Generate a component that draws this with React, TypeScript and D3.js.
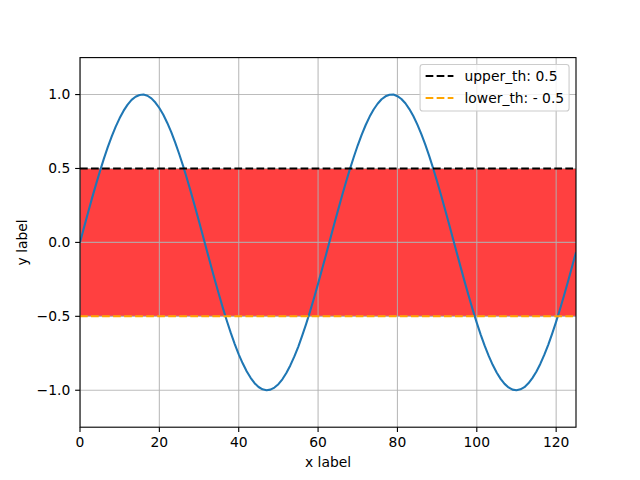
import React from "react";
import * as d3 from "d3";

const xs: number[] = Array.from({ length: 126 }, (_, i) => i);
const ys: number[] = [
  0.0, 0.1, 0.199, 0.296, 0.389, 0.479, 0.565, 0.644, 0.717, 0.783,
  0.841, 0.891, 0.932, 0.964, 0.985, 0.997, 1.0, 0.992, 0.974, 0.946,
  0.909, 0.863, 0.808, 0.746, 0.675, 0.598, 0.516, 0.427, 0.335, 0.239,
  0.141, 0.042, -0.058, -0.158, -0.256, -0.351, -0.443, -0.53, -0.612, -0.688,
  -0.757, -0.818, -0.872, -0.916, -0.952, -0.978, -0.994, -1.0, -0.996, -0.982,
  -0.959, -0.926, -0.883, -0.832, -0.773, -0.706, -0.631, -0.551, -0.465, -0.374,
  -0.279, -0.182, -0.083, 0.017, 0.117, 0.215, 0.312, 0.405, 0.494, 0.578,
  0.657, 0.729, 0.794, 0.851, 0.899, 0.938, 0.968, 0.988, 0.999, 1.0,
  0.989, 0.97, 0.941, 0.902, 0.855, 0.798, 0.734, 0.663, 0.585, 0.501,
  0.412, 0.319, 0.223, 0.124, 0.025, -0.075, -0.174, -0.272, -0.366, -0.458,
  -0.544, -0.625, -0.7, -0.768, -0.828, -0.88, -0.923, -0.957, -0.981, -0.996,
  -1.0, -0.994, -0.979, -0.953, -0.918, -0.875, -0.822, -0.761, -0.693, -0.617,
  -0.536, -0.449, -0.358, -0.263, -0.165, -0.066,
];
const upperTh = 0.5;
const lowerTh = -0.5;
const xTicks = [0, 20, 40, 60, 80, 100, 120];
const yTicks = [-1.0, -0.5, 0.0, 0.5, 1.0];
const legendLabels = ["upper_th: 0.5", "lower_th: - 0.5"];
const legendColors = ["#000000", "#ffa500"];

const W = 640, H = 480;
const L = 80, R = 576, T = 57.6, B = 427.2;
const FS = 13.89;
const FONT = "DejaVu Sans";
const LW = 2.08;

export default function App() {
  const x = d3.scaleLinear().domain([0, 125]).range([L, R]);
  const y = d3.scaleLinear().domain([-1.25, 1.25]).range([B, T]);
  const line = d3.line<number>().x((_, i) => x(xs[i])).y((d) => y(d));
  const fmt = (v: number) => v.toFixed(1).replace("-", "\u2212");
  const dash = "7.7 3.33";

  const legW = 149, legH = 46.5;
  const legX = R - 6.94 - legW, legY = T + 6.94;

  return (
    <svg width={W} height={H} style={{ position: "absolute", left: 0, top: 0 }} fontFamily={FONT}>
      <rect x={0} y={0} width={W} height={H} fill="#fff" />
      <defs>
        <clipPath id="ax">
          <rect x={L} y={T} width={R - L} height={B - T} />
        </clipPath>
      </defs>
      <g clipPath="url(#ax)">
        <rect x={x(0)} y={y(upperTh)} width={x(125) - x(0)} height={y(lowerTh) - y(upperTh)} fill="#ff4040" />
        {xTicks.map((t) => (
          <line key={"gx" + t} x1={x(t)} x2={x(t)} y1={T} y2={B} stroke="#b0b0b0" strokeOpacity={0.85} strokeWidth={1.11} />
        ))}
        {yTicks.map((t) => (
          <line key={"gy" + t} x1={L} x2={R} y1={y(t)} y2={y(t)} stroke="#b0b0b0" strokeOpacity={0.85} strokeWidth={1.11} />
        ))}
        <path d={line(ys) || ""} fill="none" stroke="#1f77b4" strokeWidth={LW} strokeLinejoin="round" strokeLinecap="butt" />
        <line x1={L} x2={R} y1={y(upperTh)} y2={y(upperTh)} stroke="#000" strokeWidth={LW} strokeDasharray={dash} />
        <line x1={L} x2={R} y1={y(lowerTh)} y2={y(lowerTh)} stroke="#ffa500" strokeWidth={LW} strokeDasharray={dash} />
      </g>
      <rect x={L} y={T} width={R - L} height={B - T} fill="none" stroke="#000" strokeWidth={1.11} />
      {xTicks.map((t) => (
        <g key={"xt" + t}>
          <line x1={x(t)} x2={x(t)} y1={B} y2={B + 4.86} stroke="#000" strokeWidth={1.11} />
          <text x={x(t)} y={B + 4.86 + 4.86 + 10.5} fontSize={FS} textAnchor="middle">{t}</text>
        </g>
      ))}
      {yTicks.map((t) => (
        <g key={"yt" + t}>
          <line x1={L - 4.86} x2={L} y1={y(t)} y2={y(t)} stroke="#000" strokeWidth={1.11} />
          <text x={L - 4.86 - 4.86} y={y(t)} dy="0.35em" fontSize={FS} textAnchor="end">{fmt(t)}</text>
        </g>
      ))}
      <text x={(L + R) / 2} y={467} fontSize={FS} textAnchor="middle">x label</text>
      <text transform={`translate(27,${(T + B) / 2}) rotate(-90)`} fontSize={FS} textAnchor="middle">y label</text>
      <g>
        <rect x={legX} y={legY} width={legW} height={legH} rx={2.8} fill="#fff" fillOpacity={0.8} stroke="#cccccc" strokeWidth={1.11} />
        {legendLabels.map((lab, i) => {
          const cy = legY + 11.5 + i * 22;
          return (
            <g key={lab}>
              <line x1={legX + 5.56} x2={legX + 5.56 + 27.8} y1={cy} y2={cy} stroke={legendColors[i]} strokeWidth={LW} strokeDasharray={dash} />
              <text x={legX + 5.56 + 27.8 + 11.1} y={cy} dy="0.35em" fontSize={FS}>{lab}</text>
            </g>
          );
        })}
      </g>
    </svg>
  );
}
